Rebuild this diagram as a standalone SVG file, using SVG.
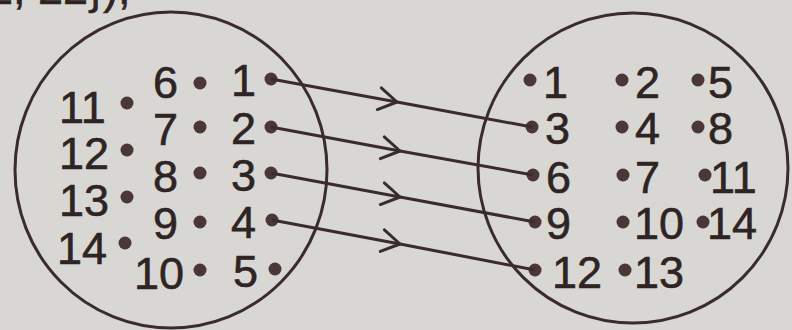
<svg xmlns="http://www.w3.org/2000/svg" width="792" height="330" viewBox="0 0 792 330">
<defs>
<style>
.bg{fill:#d9d7d3}
.set{fill:none;stroke:#3a2c2c;stroke-width:3}
.dot{fill:#4a3838}
.t{font-family:"Liberation Sans",Arial,sans-serif;font-size:45px;fill:#2e2424;stroke:#2e2424;stroke-width:0.6}
.c{fill:none;stroke:#3a2c2c;stroke-width:3}
</style>
<marker id="chev" viewBox="-22 -14 26 28" markerWidth="26" markerHeight="28" refX="0" refY="0" orient="auto" markerUnits="userSpaceOnUse">
<path d="M-18,-11 L0,0 L-18,11" fill="none" stroke="#3a2c2c" stroke-width="3" stroke-linecap="round" stroke-linejoin="round"/>
</marker>
</defs>
<rect class="bg" x="0" y="0" width="792" height="330"/>
<text class="t" x="-12" y="4">2, 22}),</text>
<g id="setA">
<ellipse class="set" cx="171" cy="170" rx="156" ry="158"/>
<circle class="dot" cx="271" cy="79" r="6.5"/><text class="t" x="231" y="96">1</text>
<circle class="dot" cx="271" cy="127" r="6.5"/><text class="t" x="231" y="144">2</text>
<circle class="dot" cx="271" cy="173" r="6.5"/><text class="t" x="231" y="191">3</text>
<circle class="dot" cx="272" cy="220" r="6.5"/><text class="t" x="231" y="238">4</text>
<circle class="dot" cx="275" cy="269" r="6.5"/><text class="t" x="233" y="287">5</text>
<circle class="dot" cx="200" cy="83" r="6.5"/><text class="t" x="153" y="98">6</text>
<circle class="dot" cx="200" cy="127" r="6.5"/><text class="t" x="153" y="145">7</text>
<circle class="dot" cx="200" cy="173" r="6.5"/><text class="t" x="153" y="192">8</text>
<circle class="dot" cx="200" cy="222" r="6.5"/><text class="t" x="153" y="239">9</text>
<circle class="dot" cx="200" cy="270" r="6.5"/><text class="t" x="134" y="289">10</text>
<circle class="dot" cx="127" cy="103" r="6.5"/><text class="t" x="59" y="123">11</text>
<circle class="dot" cx="127" cy="150" r="6.5"/><text class="t" x="59" y="169">12</text>
<circle class="dot" cx="127" cy="197" r="6.5"/><text class="t" x="59" y="216">13</text>
<circle class="dot" cx="125" cy="243" r="6.5"/><text class="t" x="57" y="264">14</text>
</g>
<g id="setB">
<ellipse class="set" cx="633" cy="168" rx="155" ry="155"/>
<circle class="dot" cx="530" cy="80" r="6.5"/><text class="t" x="543" y="98">1</text>
<circle class="dot" cx="622" cy="80" r="6.5"/><text class="t" x="635" y="98">2</text>
<circle class="dot" cx="698" cy="80" r="6.5"/><text class="t" x="708" y="98">5</text>
<circle class="dot" cx="532" cy="127" r="6.5"/><text class="t" x="545" y="144">3</text>
<circle class="dot" cx="622" cy="127" r="6.5"/><text class="t" x="635" y="144">4</text>
<circle class="dot" cx="698" cy="127" r="6.5"/><text class="t" x="708" y="144">8</text>
<circle class="dot" cx="533" cy="175" r="6.5"/><text class="t" x="546" y="193">6</text>
<circle class="dot" cx="623" cy="175" r="6.5"/><text class="t" x="635" y="193">7</text>
<circle class="dot" cx="705" cy="175" r="6.5"/><text class="t" x="710" y="193">11</text>
<circle class="dot" cx="535" cy="222" r="6.5"/><text class="t" x="546" y="239">9</text>
<circle class="dot" cx="623" cy="222" r="6.5"/><text class="t" x="634" y="239">10</text>
<circle class="dot" cx="703" cy="222" r="6.5"/><text class="t" x="707" y="239">14</text>
<circle class="dot" cx="535" cy="270" r="6.5"/><text class="t" x="552" y="288">12</text>
<circle class="dot" cx="625" cy="270" r="6.5"/><text class="t" x="634" y="288">13</text>
</g>
<g id="connectors">
<polyline class="c" points="271,79 397,102 532,127" marker-mid="url(#chev)"/>
<polyline class="c" points="271,127 400,151 533,175" marker-mid="url(#chev)"/>
<polyline class="c" points="271,173 400,197 535,222" marker-mid="url(#chev)"/>
<polyline class="c" points="272,220 400,244 535,270" marker-mid="url(#chev)"/>
</g>
</svg>
